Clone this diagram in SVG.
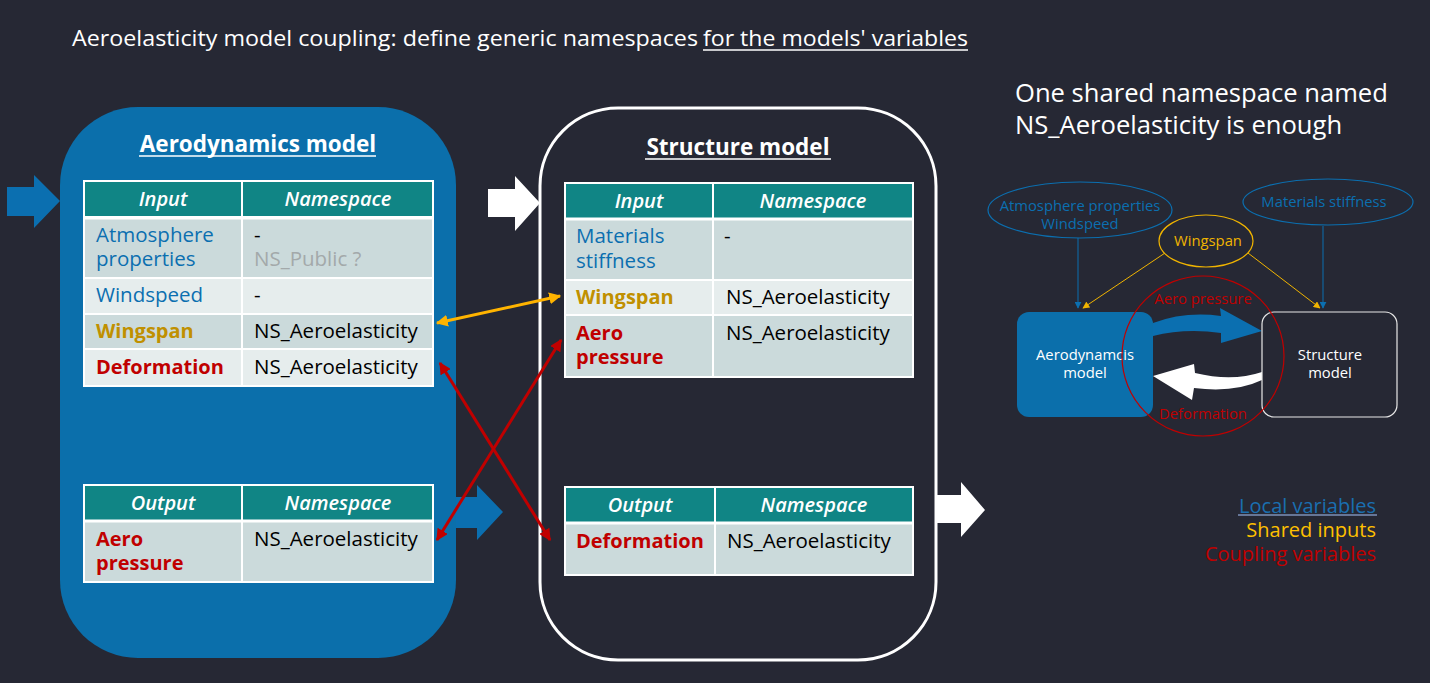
<svg xmlns="http://www.w3.org/2000/svg" width="1430" height="683" viewBox="0 0 1430 683">
<defs>
<style>
.t{font-family:"Open Sans","Noto Sans","DejaVu Sans",sans-serif}
.hdr{font-family:"Open Sans","Noto Sans",sans-serif;font-style:italic;font-weight:600;font-size:20px;fill:#fff;text-anchor:middle}
.blue{fill:#0b6fb0}
.cell{font-family:"Open Sans","Noto Sans",sans-serif;font-size:20.5px}
.ns{fill:#000}
.yel{fill:#c09000;font-weight:700;font-size:20px}
.red{fill:#c00000;font-weight:700;font-size:20px}
.grid{stroke:#fff;stroke-width:2;fill:none}
.dark{fill:#cbdadb}
.light{fill:#e6eded}
.teal{fill:#108585}
.mini{font-family:"Open Sans","Noto Sans",sans-serif;font-size:14.8px;text-anchor:middle}
</style>
<marker id="ay" viewBox="0 0 10 10" refX="9" refY="5" markerWidth="4" markerHeight="4" orient="auto-start-reverse"><path d="M0,0 L10,5 L0,10 Z" fill="#ffb400"/></marker>
<marker id="ar" viewBox="0 0 10 10" refX="9" refY="5" markerWidth="4" markerHeight="4" orient="auto-start-reverse"><path d="M0,0 L10,5 L0,10 Z" fill="#c00000"/></marker>
<marker id="sb" viewBox="0 0 10 10" refX="9" refY="5" markerWidth="7" markerHeight="7" orient="auto"><path d="M0,0 L10,5 L0,10 Z" fill="#0b6fb0"/></marker>
<marker id="sy" viewBox="0 0 10 10" refX="9" refY="5" markerWidth="7" markerHeight="7" orient="auto"><path d="M0,0 L10,5 L0,10 Z" fill="#f0b400"/></marker>
</defs>
<rect width="1430" height="683" fill="#262834"/>

<g id="title">
<text x="72" y="46" class="t" font-size="22" fill="#fff" textLength="626" lengthAdjust="spacingAndGlyphs">Aeroelasticity model coupling: define generic namespaces</text>
<text x="703" y="46" class="t" font-size="22" fill="#fff" textLength="265" lengthAdjust="spacingAndGlyphs">for the models' variables</text>
<line x1="703" y1="50" x2="968" y2="50" stroke="#fff" stroke-width="1.5"/>
</g>

<g id="input-arrow-aero"><path d="M7,187 H34 V175 L60,201 L34,228 V216 H7 Z" fill="#0b6fb0"/></g>
<g id="input-arrow-structure"><path d="M488,189 H515 V176 L540,203 L515,231 V217 H488 Z" fill="#fff"/></g>
<g id="output-arrow-aero"><path d="M450,497 H477 V485 L503,512 L477,540 V528 H450 Z" fill="#0b6fb0"/></g>
<g id="output-arrow-structure"><path d="M936,495 H961 V482 L985,510 L961,537 V523 H936 Z" fill="#fff"/></g>

<g id="aero-model">
<rect x="60" y="107" width="396" height="551" rx="78" fill="#0b6fab"/>
<text x="258" y="152" class="t" font-size="22.5" font-weight="700" fill="#fff" text-anchor="middle">Aerodynamics model</text>
<line x1="139" y1="156" x2="376" y2="156" stroke="#fff" stroke-width="1.5"/>
<g id="aero-input-table">
<rect x="84" y="181" width="349" height="36" class="teal"/>
<rect x="84" y="217" width="349" height="61" class="dark"/>
<rect x="84" y="278" width="349" height="36" class="light"/>
<rect x="84" y="314" width="349" height="35" class="dark"/>
<rect x="84" y="349" width="349" height="37" class="light"/>
<rect x="84" y="181" width="349" height="205" class="grid"/>
<path d="M242,181 V386 M84,217 H433 M84,278 H433 M84,314 H433 M84,349 H433" class="grid"/>
<line x1="84" y1="218" x2="433" y2="218" stroke="#fff" stroke-width="3"/>
<text x="163" y="206" class="hdr">Input</text>
<text x="338" y="206" class="hdr">Namespace</text>
<text class="cell blue"><tspan x="96" y="242">Atmosphere</tspan><tspan x="96" y="266">properties</tspan></text>
<text class="cell"><tspan x="254" y="242" fill="#000">-</tspan><tspan x="254" y="266" fill="#a3a9aa">NS_Public ?</tspan></text>
<text x="96" y="302" class="cell blue">Windspeed</text>
<text x="254" y="302" class="cell ns">-</text>
<text x="96" y="338" class="cell yel">Wingspan</text>
<text x="254" y="338" class="cell ns">NS_Aeroelasticity</text>
<text x="96" y="374" class="cell red">Deformation</text>
<text x="254" y="374" class="cell ns">NS_Aeroelasticity</text>
</g>
<g id="aero-output-table">
<rect x="84" y="485" width="349" height="35" class="teal"/>
<rect x="84" y="520" width="349" height="62" class="dark"/>
<rect x="84" y="485" width="349" height="97" class="grid"/>
<path d="M242,485 V582" class="grid"/>
<line x1="84" y1="521" x2="433" y2="521" stroke="#fff" stroke-width="3"/>
<text x="163" y="510" class="hdr">Output</text>
<text x="338" y="510" class="hdr">Namespace</text>
<text class="cell red"><tspan x="96" y="546">Aero</tspan><tspan x="96" y="570">pressure</tspan></text>
<text x="254" y="546" class="cell ns">NS_Aeroelasticity</text>
</g>
</g>

<g id="structure-model">
<rect x="540" y="108" width="396" height="552" rx="78" fill="none" stroke="#fff" stroke-width="3"/>
<text x="738" y="155" class="t" font-size="22.5" font-weight="700" fill="#fff" text-anchor="middle">Structure model</text>
<line x1="645" y1="159" x2="831" y2="159" stroke="#fff" stroke-width="1.5"/>
<g id="structure-input-table">
<rect x="565" y="183" width="348" height="35" class="teal"/>
<rect x="565" y="218" width="348" height="62" class="dark"/>
<rect x="565" y="280" width="348" height="35" class="light"/>
<rect x="565" y="315" width="348" height="62" class="dark"/>
<rect x="565" y="183" width="348" height="194" class="grid"/>
<path d="M713,183 V377 M565,280 H913 M565,315 H913" class="grid"/>
<line x1="565" y1="219" x2="913" y2="219" stroke="#fff" stroke-width="3"/>
<text x="639" y="208" class="hdr">Input</text>
<text x="813" y="208" class="hdr">Namespace</text>
<text class="cell blue"><tspan x="576" y="243">Materials</tspan><tspan x="576" y="268">stiffness</tspan></text>
<text x="724" y="243" class="cell ns">-</text>
<text x="576" y="304" class="cell yel">Wingspan</text>
<text x="726" y="304" class="cell ns">NS_Aeroelasticity</text>
<text class="cell red"><tspan x="576" y="340">Aero</tspan><tspan x="576" y="364">pressure</tspan></text>
<text x="726" y="340" class="cell ns">NS_Aeroelasticity</text>
</g>
<g id="structure-output-table">
<rect x="565" y="487" width="348" height="35" class="teal"/>
<rect x="565" y="522" width="348" height="53" class="dark"/>
<rect x="565" y="487" width="348" height="88" class="grid"/>
<path d="M715,487 V575" class="grid"/>
<line x1="565" y1="523" x2="913" y2="523" stroke="#fff" stroke-width="3"/>
<text x="640" y="512" class="hdr">Output</text>
<text x="814" y="512" class="hdr">Namespace</text>
<text x="576" y="548" class="cell red">Deformation</text>
<text x="727" y="548" class="cell ns">NS_Aeroelasticity</text>
</g>
</g>

<g id="connectors">
<line x1="437" y1="323" x2="560" y2="296" stroke="#ffb400" stroke-width="3" marker-start="url(#ay)" marker-end="url(#ay)"/>
<line x1="440" y1="363" x2="550" y2="540" stroke="#c00000" stroke-width="3" marker-start="url(#ar)" marker-end="url(#ar)"/>
<line x1="437" y1="540" x2="561" y2="340" stroke="#c00000" stroke-width="3" marker-start="url(#ar)" marker-end="url(#ar)"/>
</g>

<g id="summary">
<text class="t" font-size="25.6" fill="#fff"><tspan x="1015" y="102">One shared namespace named</tspan><tspan x="1015" y="134">NS_Aeroelasticity is enough</tspan></text>
</g>

<g id="mini-diagram">
<g id="mini-connectors">
<line x1="1078" y1="238" x2="1078" y2="308" stroke="#0b6fb0" stroke-width="1" marker-end="url(#sb)"/>
<line x1="1323" y1="226" x2="1323" y2="308" stroke="#0b6fb0" stroke-width="1" marker-end="url(#sb)"/>
<line x1="1165" y1="253" x2="1083" y2="308" stroke="#f0b400" stroke-width="1" marker-end="url(#sy)"/>
<line x1="1248" y1="253" x2="1320" y2="308" stroke="#f0b400" stroke-width="1" marker-end="url(#sy)"/>
<path d="M1153,323 Q1185,311 1221,316 L1220,308 L1262,331 L1221,343 L1221,333 Q1185,328 1153,336 Z" fill="#0b6fb0"/>
<path d="M1262,372 Q1232,382 1195,373 L1194,364 L1153,376 L1192,400 L1194,388 Q1235,393 1262,380 Z" fill="#fff"/>
</g>
<g id="mini-atmosphere">
<ellipse cx="1080" cy="210" rx="92" ry="28" fill="none" stroke="#0b6fb0" stroke-width="1.2"/>
<text class="mini" fill="#0b6fb0"><tspan x="1080" y="211">Atmosphere properties</tspan><tspan x="1080" y="229">Windspeed</tspan></text>
</g>
<g id="mini-materials">
<ellipse cx="1328" cy="202" rx="85" ry="23" fill="none" stroke="#0b6fb0" stroke-width="1.2"/>
<text x="1324" y="207" class="mini" fill="#0b6fb0">Materials stiffness</text>
</g>
<g id="mini-wingspan">
<ellipse cx="1206" cy="241" rx="47" ry="26" fill="none" stroke="#f0b400" stroke-width="1.2"/>
<text x="1208" y="246" class="mini" fill="#f0b400">Wingspan</text>
</g>
<g id="mini-aero">
<rect x="1017" y="312" width="136" height="105" rx="12" fill="#0b6fab"/>
<text class="mini" font-size="13.5" fill="#fff"><tspan x="1085" y="360">Aerodynamcis</tspan><tspan x="1085" y="378">model</tspan></text>
</g>
<g id="mini-structure">
<rect x="1262" y="312" width="135" height="105" rx="12" fill="none" stroke="#e8e8e8" stroke-width="1.2"/>
<text class="mini" font-size="13.5" fill="#fff"><tspan x="1330" y="360">Structure</tspan><tspan x="1330" y="378">model</tspan></text>
</g>
<g id="mini-coupling">
<ellipse cx="1203" cy="356" rx="81" ry="80" fill="none" stroke="#c00000" stroke-width="1.2"/>
<text x="1203" y="304" class="mini" font-size="13.5" fill="#c00000">Aero pressure</text>
<text x="1203" y="419" class="mini" font-size="13.5" fill="#c00000">Deformation</text>
</g>
</g>

<g id="legend">
<text x="1376" y="513" class="t" font-size="20" fill="#1a6fb0" text-anchor="end">Local variables</text>
<line x1="1238" y1="515" x2="1377" y2="515" stroke="#7d90b8" stroke-width="1.5"/>
<text x="1376" y="537" class="t" font-size="20" fill="#ffc000" text-anchor="end">Shared inputs</text>
<text x="1376" y="561" class="t" font-size="20" fill="#c00000" text-anchor="end">Coupling variables</text>
</g>
</svg>
